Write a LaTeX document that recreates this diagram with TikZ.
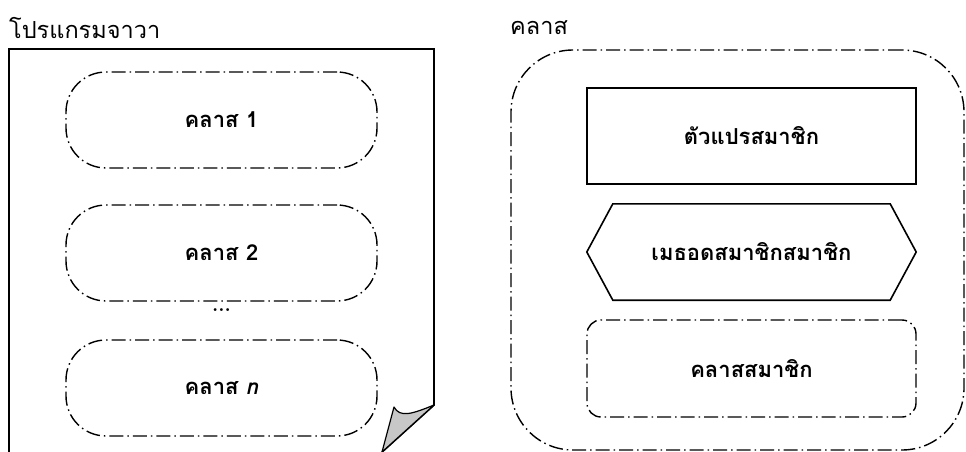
\documentclass[tikz,border=0pt]{standalone}
\usepackage{fontspec}
\newfontfamily\thaifont[Script=Thai]{Loma}
\tikzset{
  dashdot/.style={line width=1.4pt, dash pattern=on 14pt off 4pt on 1.5pt off 4pt},
  boxfont/.style={font=\thaifont\bfseries\fontsize{22}{25}\selectfont},
  pill/.style={draw, dashdot, rounded corners=40pt, minimum width=311pt, minimum height=96pt, boxfont},
  solidbox/.style={draw, line width=1.6pt, minimum width=329pt, minimum height=96pt, boxfont},
  inner/.style={minimum width=329pt, minimum height=96pt, boxfont},
  title/.style={anchor=west, inner sep=0pt, font=\thaifont\fontsize{23.5}{26}\selectfont}
}
\begin{document}
\begin{tikzpicture}[x=1pt,y=-1pt]
\useasboundingbox (0,0) rectangle (966,452);
\fill[white] (0,0) rectangle (966,452);
% titles
\node[title] (t1) at (9,28) {โปรแกรมจาวา};
\node[title] (t2) at (510,28) {คลาส};
% page
\coordinate (pbl) at (9,460);
\coordinate (ptl) at (9,49);
\coordinate (ptr) at (434,49);
\coordinate (pcr) at (434,405);
\coordinate (pcb) at (382,452);
\coordinate (pca) at (394,407);
\draw[line width=1.8pt, line join=miter] (pbl) -- (ptl) -- (ptr) -- (pcr) -- (pcb);
\filldraw[fill=black!22, line width=1.2pt, line join=round] (pca) .. controls (400,418) and (412,414) .. (pcr) -- (pcb) -- cycle;
% pills
\node[pill] (c1) at (221.5,120) {คลาส 1};
\node[pill] (c2) at (221.5,253) {คลาส 2};
\node[font=\bfseries\fontsize{20}{22}\selectfont] (dots) at (221.5,310) {...};
\node[pill] (cn) at (221.5,388) {คลาส \textit{n}};
% class container
\node[draw, dashdot, rounded corners=62pt, minimum width=453pt, minimum height=400pt] (cls) at (737.5,250) {};
\node[solidbox] (var) at (751.5,136) {ตัวแปรสมาชิก};
\node[inner] (meth) at (751.5,252) {เมธอดสมาชิกสมาชิก};
\draw[line width=1.6pt, line join=miter] (meth.west) -- ([xshift=26pt]meth.north west) -- ([xshift=-26pt]meth.north east) -- (meth.east) -- ([xshift=-26pt]meth.south east) -- ([xshift=26pt]meth.south west) -- cycle;
\node[draw, dashdot, rounded corners=14pt, minimum width=329pt, minimum height=97pt, boxfont] (mcls) at (751.5,368.5) {คลาสสมาชิก};
\end{tikzpicture}
\end{document}
